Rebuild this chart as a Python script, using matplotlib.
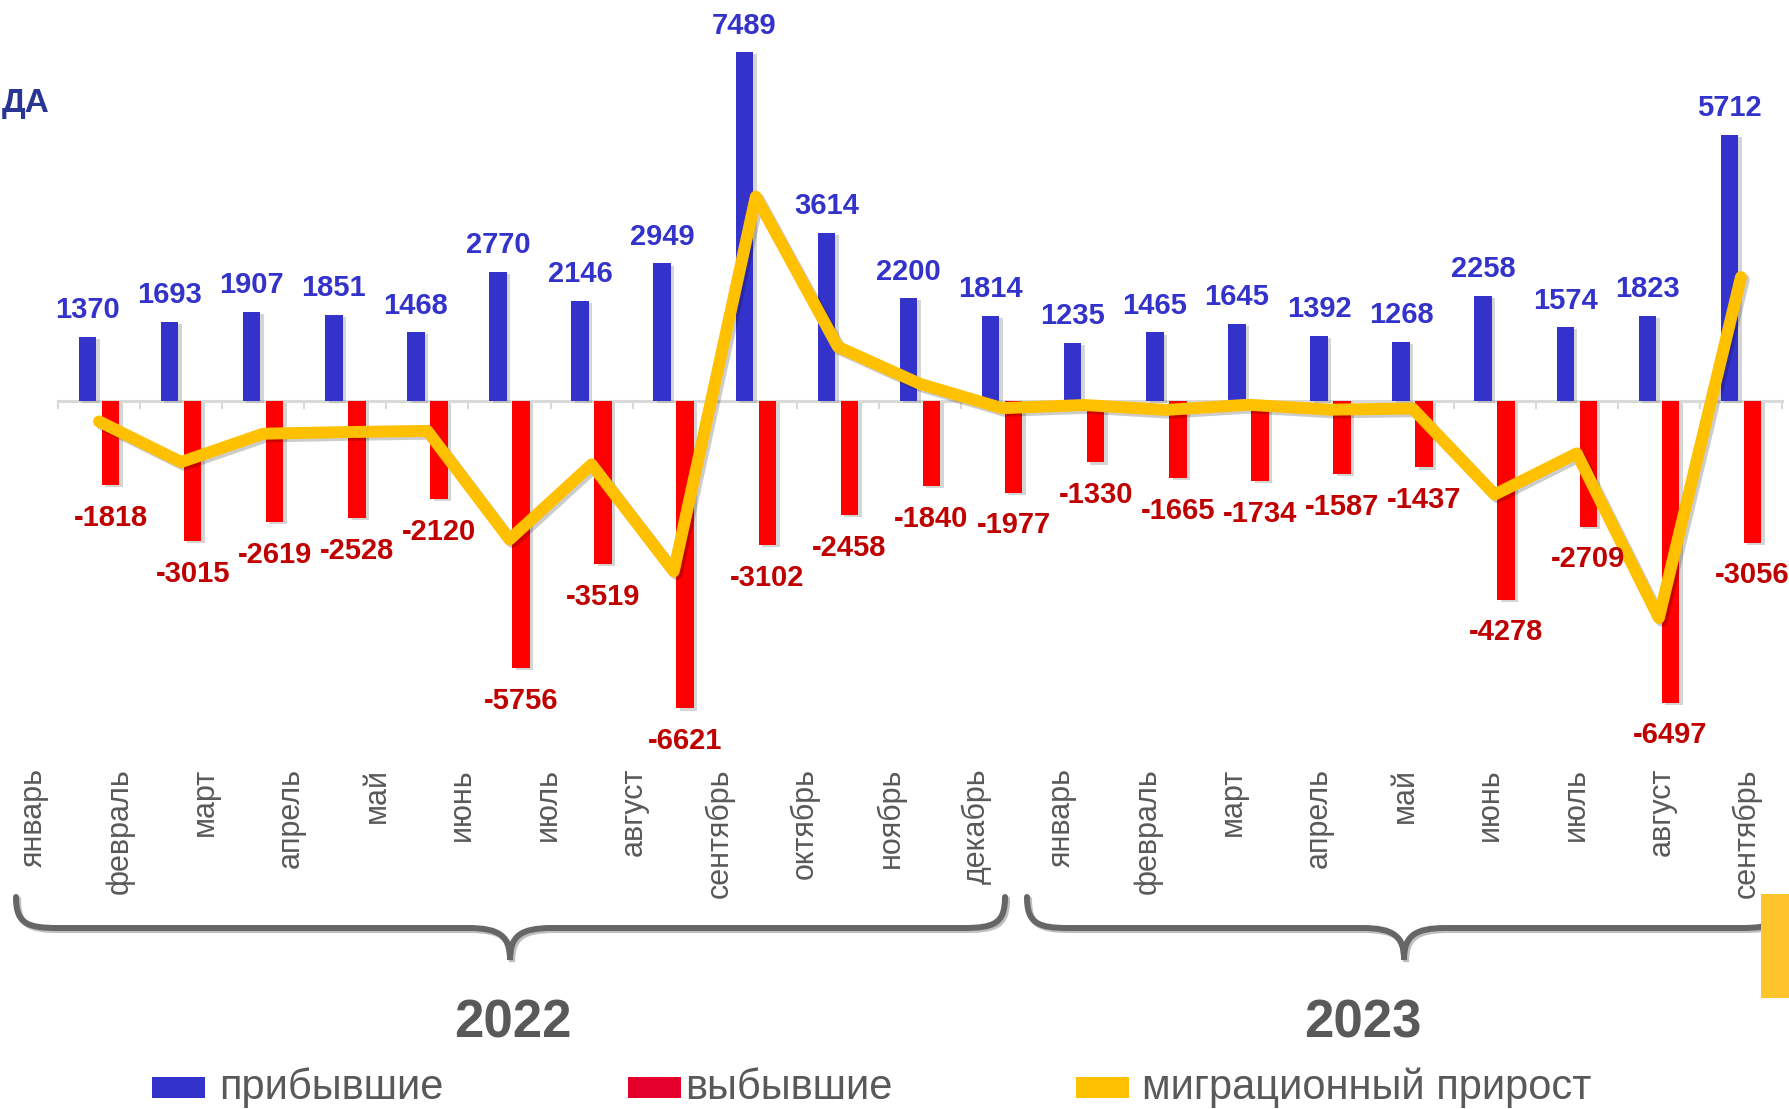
import numpy as np
import matplotlib
matplotlib.use('Agg')
import matplotlib.pyplot as plt
import matplotlib.patheffects as pe
from matplotlib.path import Path
from matplotlib.patches import PathPatch, Rectangle

plt.rcParams['font.family'] = ['Liberation Sans', 'DejaVu Sans']

months_2022 = ['январь', 'февраль', 'март', 'апрель', 'май', 'июнь', 'июль',
               'август', 'сентябрь', 'октябрь', 'ноябрь', 'декабрь']
months_2023 = ['январь', 'февраль', 'март', 'апрель', 'май', 'июнь', 'июль',
               'август', 'сентябрь']
years = ['2022', '2023']
arrived = [1370, 1693, 1907, 1851, 1468, 2770, 2146, 2949, 7489, 3614, 2200, 1814,
           1235, 1465, 1645, 1392, 1268, 2258, 1574, 1823, 5712]
departed = [-1818, -3015, -2619, -2528, -2120, -5756, -3519, -6621, -3102, -2458, -1840, -1977,
            -1330, -1665, -1734, -1587, -1437, -4278, -2709, -6497, -3056]
growth = [-448, -1322, -712, -677, -652, -2986, -1373, -3672, 4387, 1156, 360, -163,
          -95, -200, -89, -195, -169, -2020, -1135, -4674, 2656]
legend_labels = ['прибывшие', 'выбывшие', 'миграционный прирост']

BLUE = '#3333CC'
RED = '#FF0000'
DARKRED = '#C00000'
GOLD = '#FFC000'
GRAY = '#595959'

W, H = 1790, 1109
fig = plt.figure(figsize=(W / 100, H / 100), dpi=100)

# main chart, pixel layout: zero line at y=400.6, 0.0465 px per person
zero_px, scale = 400.6, 0.0465
ax_bottom = 760
ax = fig.add_axes([58 / W, 1 - ax_bottom / H, (1782 - 58) / W, ax_bottom / H])
ax.set_xlim(-0.5, len(arrived) - 0.5)
ax.set_ylim(-(ax_bottom - zero_px) / scale, zero_px / scale)
ax.patch.set_visible(False)

x = np.arange(len(arrived))
bw = 0.213
off = 0.14
shadow = [pe.SimplePatchShadow(offset=(2.5, -1.5), shadow_rgbFace='#888888', alpha=0.35), pe.Normal()]
bars_a = ax.bar(x - off, arrived, width=bw, color=BLUE, zorder=3)
bars_d = ax.bar(x + off, departed, width=bw, color=RED, zorder=3)
for b in list(bars_a) + list(bars_d):
    b.set_path_effects(shadow)

ax.plot(x, growth, color=GOLD, lw=8.6, zorder=5, solid_joinstyle='round', solid_capstyle='round',
        path_effects=[pe.SimpleLineShadow(offset=(2, -2), alpha=0.2), pe.Normal()])

for xi, v in zip(x, arrived):
    ax.annotate(str(v), (xi - off, v), xytext=(0, 13.5), textcoords='offset points',
                ha='center', va='baseline', fontsize=21, fontweight='bold', color=BLUE, zorder=6)
for xi, v in zip(x, departed):
    ax.annotate(str(v), (xi + off, v), xytext=(0, -13.5), textcoords='offset points',
                ha='center', va='top', fontsize=21, fontweight='bold', color=DARKRED, zorder=6)

for s in ['top', 'right', 'left']:
    ax.spines[s].set_visible(False)
ax.spines['bottom'].set_position(('data', 0))
ax.spines['bottom'].set_color('#D9D9D9')
ax.spines['bottom'].set_linewidth(2.2)
ax.spines['bottom'].set_zorder(2)
ax.set_xticks(np.arange(-0.5, len(arrived), 1.0))
ax.tick_params(axis='x', direction='out', length=6, width=1.5, color='#D9D9D9', labelbottom=False)
ax.set_yticks([])

# overlay in pixel coordinates for the axis captions, braces and legend
ov = fig.add_axes([0, 0, 1, 1])
ov.set_xlim(0, W)
ov.set_ylim(H, 0)
ov.axis('off')

all_months = months_2022 + months_2023
for i, m in enumerate(all_months):
    ov.text(34 + i * 85.65, 768, m, rotation=90, ha='center', va='top', fontsize=22, color=GRAY)


def brace(x1, x2, xc, ytop, ymid, ytip, r=42):
    verts = [(x1, ytop),
             (x1, ytop + (ymid - ytop) * 0.85), (x1 + r * 0.25, ymid), (x1 + r, ymid),
             (xc - r, ymid),
             (xc - r * 0.25, ymid), (xc, ymid + (ytip - ymid) * 0.25), (xc, ytip),
             (xc, ymid + (ytip - ymid) * 0.25), (xc + r * 0.25, ymid), (xc + r, ymid),
             (x2 - r, ymid),
             (x2 - r * 0.25, ymid), (x2, ytop + (ymid - ytop) * 0.85), (x2, ytop)]
    codes = [Path.MOVETO, Path.CURVE4, Path.CURVE4, Path.CURVE4, Path.LINETO,
             Path.CURVE4, Path.CURVE4, Path.CURVE4, Path.CURVE4, Path.CURVE4, Path.CURVE4,
             Path.LINETO, Path.CURVE4, Path.CURVE4, Path.CURVE4]
    p = PathPatch(Path(verts, codes), fill=False, edgecolor='#666666', lw=4.3, capstyle='round',
                  path_effects=[pe.SimpleLineShadow(offset=(1.5, -1.5), alpha=0.25), pe.Normal()])
    ov.add_patch(p)


brace(16, 1005, 510, 897, 928, 960)
brace(1027, 1783, 1404, 897, 928, 960)

ov.text(513, 1037, years[0], ha='center', va='baseline', fontsize=38, fontweight='bold', color=GRAY)
ov.text(1363, 1037, years[1], ha='center', va='baseline', fontsize=38, fontweight='bold', color=GRAY)

# title fragment at the left edge and side marker
ov.text(2, 112, 'ДА', ha='left', va='baseline', fontsize=24, fontweight='bold', color='#283593')
ov.add_patch(Rectangle((1761, 894), 30, 104, color='#FFC32B', lw=0))

# legend
leg_colors = [BLUE, '#E4002B', GOLD]
leg_box_x = [152, 628, 1076]
leg_text_x = [219, 685, 1142]
for lab, c, bx, tx in zip(legend_labels, leg_colors, leg_box_x, leg_text_x):
    ov.add_patch(Rectangle((bx, 1077), 53, 21, color=c, lw=0))
    ov.text(tx, 1099, lab, ha='left', va='baseline', fontsize=30, color=GRAY)

fig.savefig('out.png', dpi=100)
